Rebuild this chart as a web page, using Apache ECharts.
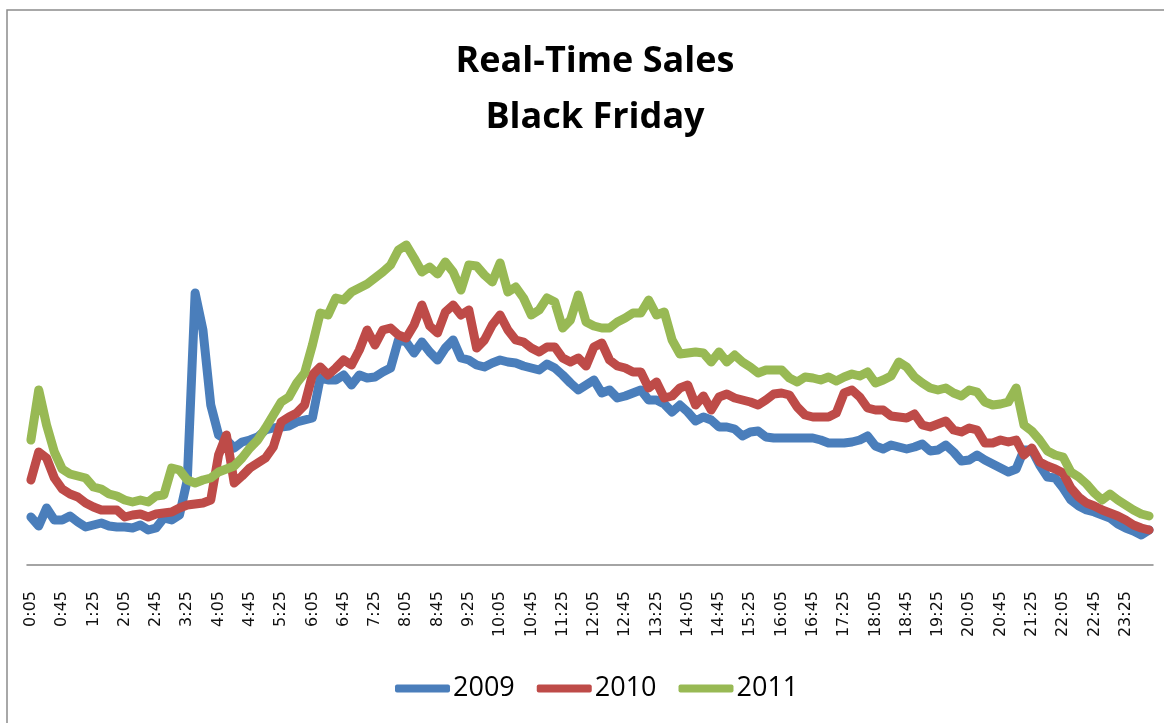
<!DOCTYPE html>
<html>
<head>
<meta charset="utf-8">
<title>Real-Time Sales Black Friday</title>
<script src="https://cdn.jsdelivr.net/npm/echarts@6/dist/echarts.min.js"></script>
<style>
  html, body { margin: 0; padding: 0; background: #fff; }
  #chart_box { width: 1164px; height: 723px; }
</style>
</head>
<body>
<div id="chart_box"></div>
<script>
// 10-minute samples from 0:05 to 23:55
var times = [];
for (var m = 5; m < 24 * 60; m += 10) {
    var mm = m % 60;
    times.push(Math.floor(m / 60) + ':' + (mm < 10 ? '0' + mm : mm));
}

var sales2009 = [
    48, 39, 57, 45, 45, 49, 43, 38, 40, 42, 39, 38, 38, 37, 40, 35,
    37, 47, 45, 50, 85, 272, 235, 160, 130, 125, 117, 123, 125, 128, 135, 137,
    138, 139, 143, 145, 147, 187, 185, 185, 190, 180, 190, 187, 188, 193, 197, 225,
    223, 212, 223, 213, 205, 217, 225, 207, 205, 200, 198, 202, 205, 203, 202, 199,
    197, 195, 201, 197, 190, 182, 175, 180, 185, 172, 175, 167, 169, 172, 175, 165,
    165, 161, 153, 160, 153, 144, 148, 145, 138, 138, 136, 129, 133, 134, 128, 127,
    127, 127, 127, 127, 127, 125, 122, 122, 122, 123, 125, 129, 119, 116, 120, 118,
    116, 118, 121, 114, 115, 120, 113, 104, 105, 110, 105, 101, 97, 93, 96, 115,
    115, 100, 88, 87, 77, 65, 59, 55, 53, 50, 47, 41, 37, 34, 30, 35
];
var sales2010 = [
    85, 113, 107, 87, 76, 71, 68, 62, 58, 55, 55, 55, 48, 50, 51, 48,
    51, 52, 53, 57, 60, 61, 62, 65, 110, 130, 82, 89, 97, 102, 107, 118,
    143, 148, 152, 160, 190, 198, 190, 197, 205, 200, 215, 235, 220, 235, 237, 230,
    227, 240, 260, 239, 232, 253, 260, 250, 255, 217, 225, 240, 250, 235, 225, 223,
    217, 213, 218, 218, 207, 203, 207, 199, 218, 222, 205, 199, 197, 193, 193, 177,
    183, 167, 169, 177, 180, 160, 169, 155, 168, 171, 167, 165, 163, 160, 165, 171,
    172, 170, 158, 150, 148, 148, 148, 152, 172, 175, 168, 157, 155, 155, 149, 148,
    147, 151, 140, 138, 141, 144, 135, 133, 137, 135, 122, 122, 125, 123, 125, 110,
    117, 103, 99, 96, 92, 77, 68, 62, 59, 55, 52, 49, 45, 40, 37, 35
];
var sales2011 = [
    125, 175, 140, 113, 96, 91, 89, 87, 78, 76, 71, 69, 65, 63, 65, 63,
    69, 70, 97, 95, 85, 82, 85, 87, 93, 96, 99, 107, 117, 125, 137, 150,
    163, 168, 182, 192, 220, 252, 250, 267, 265, 273, 277, 281, 287, 293, 300, 315,
    320, 307, 293, 298, 291, 303, 293, 275, 300, 299, 290, 283, 302, 273, 278, 267,
    250, 255, 267, 263, 237, 245, 270, 243, 239, 237, 237, 243, 247, 252, 252, 265,
    250, 253, 225, 211, 212, 213, 212, 203, 213, 203, 210, 203, 198, 192, 195, 195,
    195, 187, 183, 188, 187, 185, 188, 184, 188, 191, 189, 193, 182, 185, 189, 203,
    198, 188, 182, 177, 175, 177, 172, 169, 175, 173, 163, 160, 161, 163, 177, 140,
    134, 125, 114, 110, 108, 93, 88, 81, 72, 65, 71, 65, 60, 55, 51, 49
];

var myChart = echarts.init(document.getElementById('chart_box'));

function lineSeries(name, data, color) {
    return {
        name: name,
        type: 'line',
        data: data,
        showSymbol: false,
        symbol: 'none',
        animation: false,
        itemStyle: { color: color },
        lineStyle: { color: color, width: 9, cap: 'round', join: 'round' }
    };
}

var option = {
    backgroundColor: '#fff',
    animation: false,
    graphic: [{
        type: 'rect',
        shape: { x: 7, y: 10, width: 1200, height: 800 },
        style: { fill: 'none', stroke: '#8c8c8c', lineWidth: 1.5 },
        silent: true
    }],
    title: {
        text: 'Real-Time Sales\nBlack Friday',
        left: 590,
        textAlign: 'center',
        top: 29,
        textStyle: {
            fontFamily: 'Open Sans',
            fontWeight: 'bold',
            fontSize: 36,
            lineHeight: 56,
            color: '#000'
        }
    },
    legend: {
        data: ['2009', '2010', '2011'],
        left: 390,
        top: 670,
        icon: 'roundRect',
        itemWidth: 55,
        itemHeight: 8,
        itemGap: 22,
        textStyle: { fontFamily: 'Open Sans', fontSize: 27, color: '#000', padding: [0, 0, 0, -2] }
    },
    grid: {
        left: 27,
        right: 11,
        top: 165,
        bottom: 158,
        outerBoundsMode: 'none'
    },
    xAxis: {
        type: 'category',
        data: times,
        boundaryGap: true,
        axisLine: { lineStyle: { color: '#868686', width: 1.5 } },
        axisTick: { show: false },
        axisLabel: {
            interval: 3,
            rotate: 90,
            margin: 26,
            fontFamily: 'DejaVu Sans',
            fontSize: 16,
            color: '#111'
        },
        splitLine: { show: false }
    },
    yAxis: {
        type: 'value',
        min: 0,
        max: 400,
        show: false,
        splitLine: { show: false }
    },
    series: [
        lineSeries('2009', sales2009, '#4a7ebb'),
        lineSeries('2010', sales2010, '#be4b48'),
        lineSeries('2011', sales2011, '#98b954')
    ]
};

myChart.setOption(option);
</script>
</body>
</html>
